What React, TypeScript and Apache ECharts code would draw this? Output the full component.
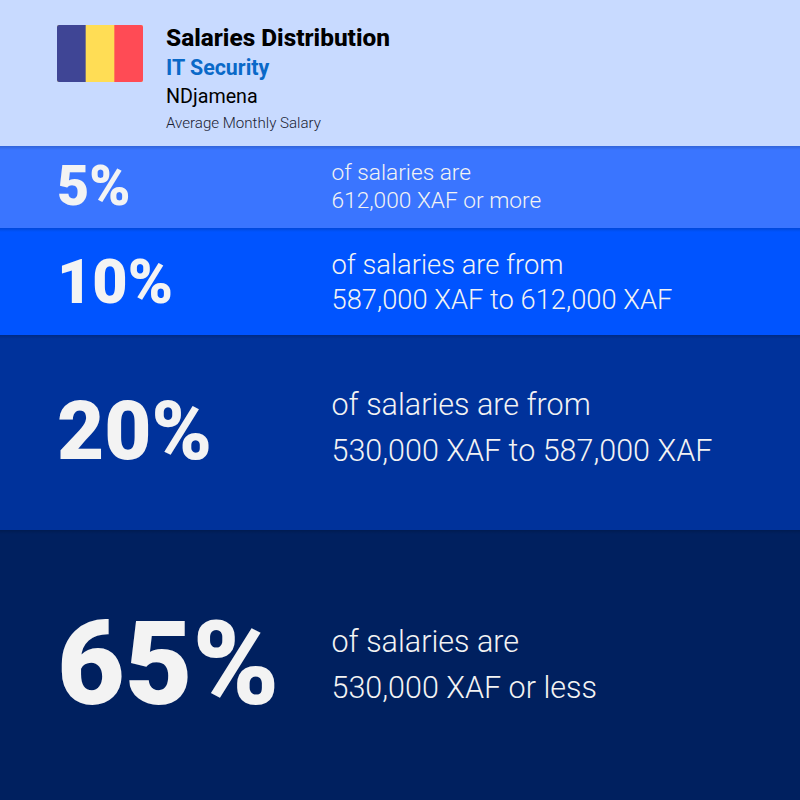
import React, { useEffect, useRef } from "react";
import * as echarts from "echarts";

const percents = ["5%", "10%", "20%", "65%"];
const lineOne = ["of salaries are", "of salaries are from", "of salaries are from", "of salaries are"];
const lineTwo = ["612,000 XAF or more", "587,000 XAF to 612,000 XAF", "530,000 XAF to 587,000 XAF", "530,000 XAF or less"];
const bandHeights = [82, 107, 195, 270];
const bandColors = ["#3a75ff", "#0054ff", "#00329b", "#00205f"];
const pctSizes = [55.5, 61, 81.5, 117];
const pctY = [186, 282, 431, 664];
const descSizes = [22.7, 27.3, 30.5, 30.5];
const descY1 = [172, 265, 404, 641];
const descY2 = [200, 300, 450, 687];
const flagColors = ["#3f4595", "#ffdd55", "#ff4b55"];

const FONT = "Roboto";
const HEADER = 146;

export default function App() {
  const ref = useRef<HTMLDivElement>(null);
  useEffect(() => {
    const chart = echarts.init(ref.current!, undefined, { renderer: "svg" });
    const els: any[] = [];
    const text = (x: number, y: number, t: string, size: number, weight: any, fill: string) =>
      els.push({ type: "text", z: 100, x, y, style: { text: t, font: `${weight} ${size}px ${FONT}`, fill, verticalAlign: "middle" } });
    text(166, 37, "Salaries Distribution", 24.4, 800, "#000000");
    text(166, 67, "IT Security", 21.4, 700, "#0a69c8");
    text(166, 96, "NDjamena", 19.7, 400, "#000000");
    text(166, 123, "Average Monthly Salary", 15.1, 300, "#1a2233");
    let top = HEADER;
    percents.forEach((p, i) => {
      text(57, pctY[i], p, pctSizes[i], 900, "#f3f3f3");
      text(331.5, descY1[i], lineOne[i], descSizes[i], 300, "#f3f3f3");
      text(331.5, descY2[i], lineTwo[i], descSizes[i], 300, "#f3f3f3");
      els.push({
        type: "rect", z: 90, shape: { x: 0, y: top, width: 800, height: 4 },
        style: { fill: { type: "linear", x: 0, y: 0, x2: 0, y2: 1, colorStops: [
          { offset: 0, color: "rgba(0,0,0,0.15)" }, { offset: 1, color: "rgba(0,0,0,0)" } ] } },
      });
      top += bandHeights[i];
    });
    els.push({ type: "rect", z: 99, shape: { x: 57, y: 25, width: 86, height: 57, r: 2 }, style: { fill: flagColors[1] } });
    els.push({ type: "rect", z: 100, shape: { x: 57, y: 25, width: 28.67, height: 57, r: [2, 0, 0, 2] }, style: { fill: flagColors[0] } });
    els.push({ type: "rect", z: 100, shape: { x: 114.33, y: 25, width: 28.67, height: 57, r: [0, 2, 2, 0] }, style: { fill: flagColors[2] } });
    chart.setOption({
      animation: false,
      backgroundColor: "#c8daff",
      grid: { left: 0, right: 0, top: HEADER, bottom: 0 },
      xAxis: { type: "category", data: ["band"], show: false },
      yAxis: { type: "value", min: 0, max: 654, inverse: true, show: false },
      series: bandHeights.map((h, i) => ({
        type: "bar",
        stack: "bands",
        barWidth: "100%",
        data: [h],
        itemStyle: { color: bandColors[i] },
        silent: true,
      })),
      graphic: { elements: els },
    });
    return () => chart.dispose();
  }, []);
  return <div ref={ref} style={{ position: "absolute", left: 0, top: 0, width: 800, height: 800 }} />;
}
